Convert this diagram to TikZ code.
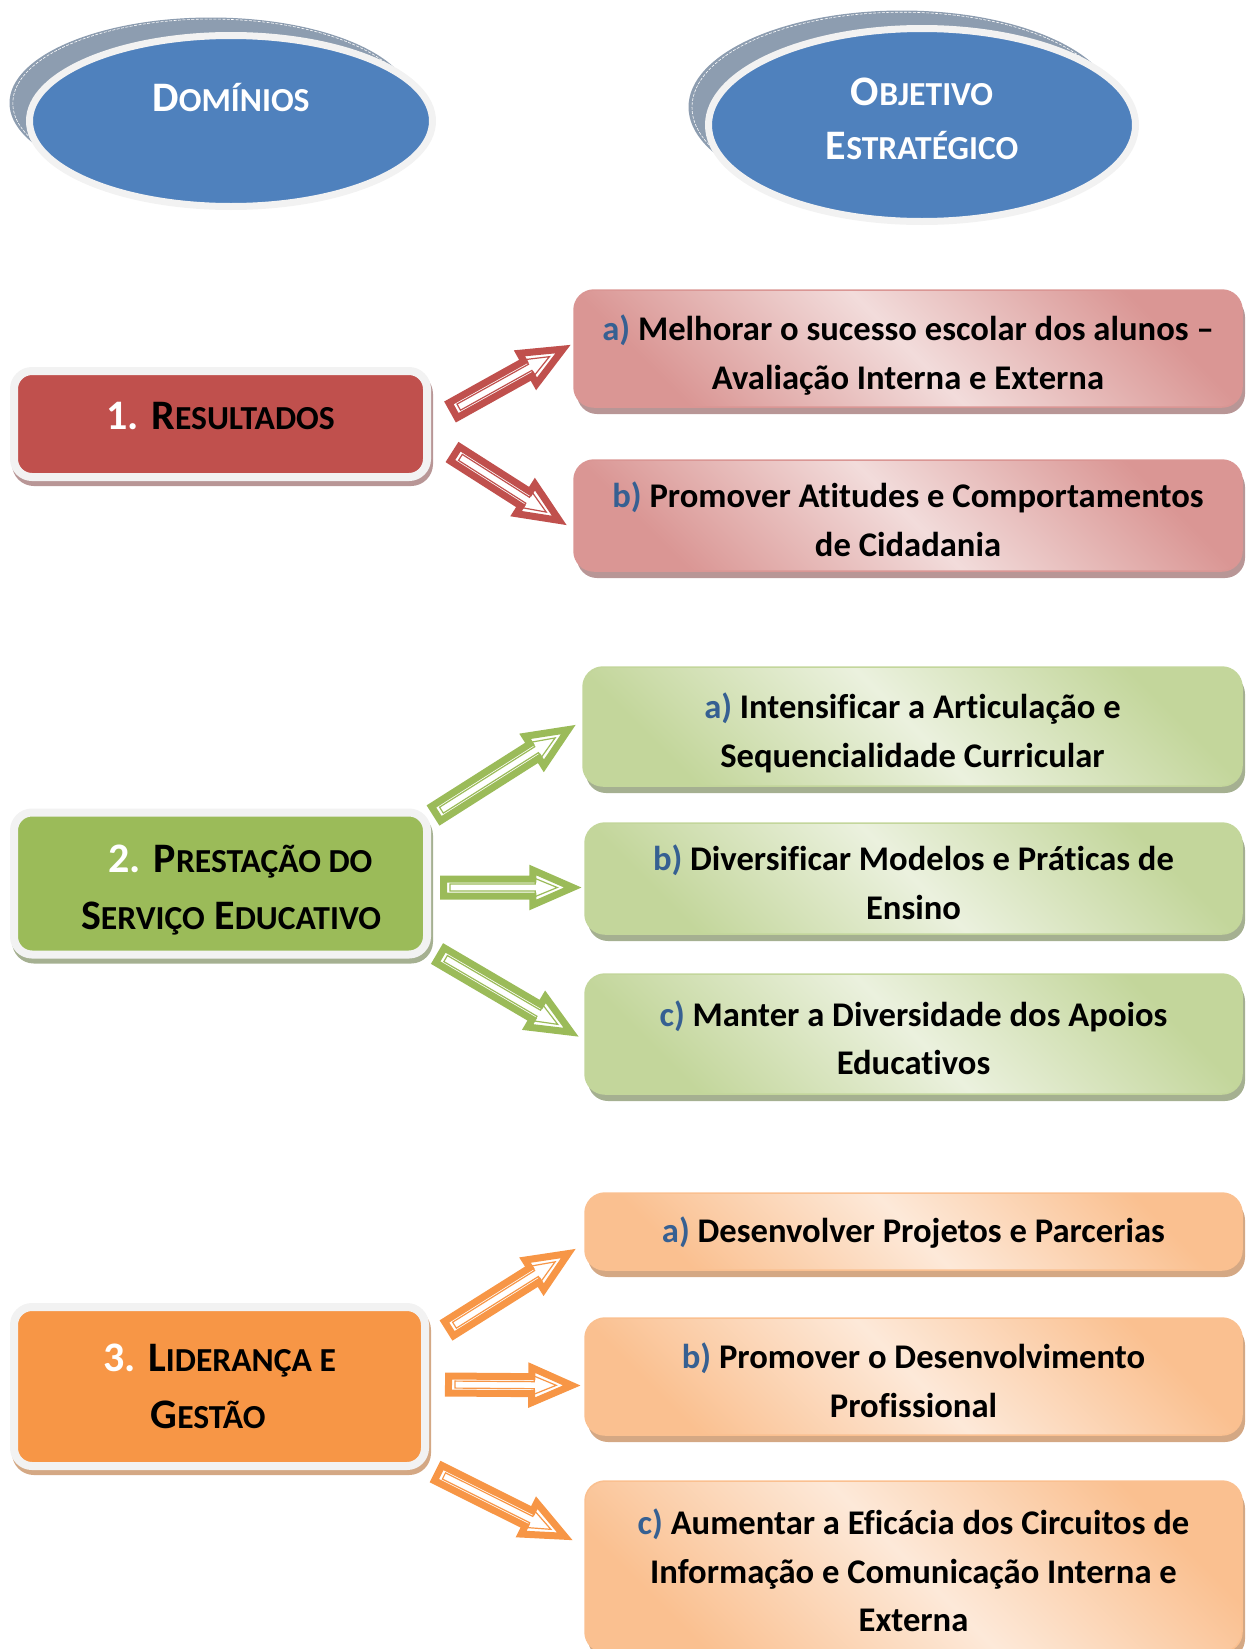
\documentclass[tikz,border=0pt]{standalone}
\usepackage{fontspec}
\setmainfont{Carlito}[Ligatures=NoCommon]
\usetikzlibrary{positioning,calc,shadows,shapes.geometric}

\definecolor{ellblue}{HTML}{4F81BD}
\definecolor{ellshade}{RGB}{141,157,176}
\definecolor{rim}{HTML}{F2F2F2}
\definecolor{resred}{HTML}{C0504D}
\definecolor{resgreen}{HTML}{9BBB59}
\definecolor{resorange}{HTML}{F79646}
\definecolor{redshade}{RGB}{184,150,150}
\definecolor{greenshade}{RGB}{165,176,145}
\definecolor{orangeshade}{RGB}{212,168,132}
\definecolor{redlight}{HTML}{F2DCDB}
\definecolor{reddark}{HTML}{DA9694}
\definecolor{greenlight}{HTML}{EBF1DE}
\definecolor{greendark}{HTML}{C3D69B}
\definecolor{orangelight}{HTML}{FDE9D9}
\definecolor{orangedark}{HTML}{FAC090}
\definecolor{letterblue}{RGB}{54,96,146}

% first letter big, the rest as small capitals
\newcommand{\capsc}[2]{#1{\fontsize{33.6}{54}\selectfont #2}}
\newcommand{\lbl}[1]{\textcolor{letterblue}{#1)}}

% block arrow with a thin inner outline, from tail #2 to tip #3
\newcommand{\fatarrow}[3]{%
  \path let \p1=($(#3)-(#2)$), \n1={atan2(\y1,\x1)}, \n2={veclen(\x1,\y1)} in
    \pgfextra{\xdef\faangle{\n1}\xdef\falength{\n2}};
  \begin{scope}[shift={(#2)}, rotate=\faangle]
    \draw[draw=#1, fill=white, line width=7pt, miter limit=5]
      (3.5,-8.5) -- ({\falength-49.5},-8.5) -- ({\falength-49.5},-17.5) -- ({\falength-9.5},0)
      -- ({\falength-49.5},17.5) -- ({\falength-49.5},8.5) -- (3.5,8.5) -- cycle;
    \draw[draw=#1, line width=1.2pt]
      (10,-3.5) -- ({\falength-47},-3.5) -- ({\falength-47},-9) -- ({\falength-25},0)
      -- ({\falength-47},9) -- ({\falength-47},3.5) -- (10,3.5) -- cycle;
  \end{scope}}

\begin{document}
\begin{tikzpicture}[x=1pt, y=-1pt,
  heading/.style={ellipse, inner sep=0pt, fill=ellblue, draw=rim, line width=7pt, text=white,
    align=center, font=\bfseries\fontsize{42}{54}\selectfont,
    general shadow={fill=ellshade, shadow xshift=-20pt, shadow yshift=18pt},
    general shadow={draw=white, line width=0.6pt, dash pattern=on 3pt off 1.5pt,
      shadow xshift=-20pt, shadow yshift=18pt, shadow scale=0.985}},
  area/.style={rectangle, rounded corners=18pt, inner sep=0pt, draw=rim, line width=8pt,
    minimum width=413pt, align=center, font=\bfseries\fontsize{42}{57}\selectfont},
  redarea/.style={area, fill=resred, general shadow={fill=redshade, draw=redshade,
    line width=8pt, shadow xshift=2pt, shadow yshift=-5pt}},
  greenarea/.style={area, fill=resgreen, general shadow={fill=greenshade, draw=greenshade,
    line width=8pt, shadow xshift=2pt, shadow yshift=-5pt}},
  orangearea/.style={area, fill=resorange, general shadow={fill=orangeshade, draw=orangeshade,
    line width=8pt, shadow xshift=2pt, shadow yshift=-5pt}},
  goal/.style={rectangle, rounded corners=20pt, inner sep=0pt, line width=1.5pt,
    minimum width=657pt, text width=640pt, align=flush center,
    execute at begin node={\rule{0pt}{43pt}},
    execute at end node={\rule[-10pt]{0pt}{10pt}},
    font=\bfseries\fontsize{34.6}{48.4}\selectfont},
  redgoal/.style={goal, draw=reddark, top color=reddark, bottom color=reddark,
    middle color=redlight, shading angle=-45,
    general shadow={fill=redshade, shadow xshift=3pt, shadow yshift=-7pt}},
  greengoal/.style={goal, draw=greendark, top color=greendark, bottom color=greendark,
    middle color=greenlight, shading angle=-45,
    general shadow={fill=greenshade, shadow xshift=3pt, shadow yshift=-7pt}},
  orangegoal/.style={goal, draw=orangedark, top color=orangedark, bottom color=orangedark,
    middle color=orangelight, shading angle=-45,
    general shadow={fill=orangeshade, shadow xshift=3pt, shadow yshift=-7pt}}]

  \useasboundingbox (0,0) rectangle (1245,1649);

  % headings
  \node[heading, minimum width=403pt, minimum height=171pt, text height=37pt, text depth=57pt]
    (dominios) at (231,121) {\capsc{D}{OMÍNIOS}};
  \node[heading, minimum width=427pt, minimum height=193pt, text depth=12.5pt]
    (objetivo) at (922,125) {\capsc{O}{BJETIVO}\\\capsc{E}{STRATÉGICO}};

  % domains
  \node[redarea, minimum height=106pt, text depth=16pt] (res) at (220.5,424)
    {\textcolor{white}{1.} \capsc{R}{ESULTADOS}};
  \node[greenarea, minimum height=142pt, text height=97pt] (pse) at (220.5,883.5)
    {\hspace*{40pt}\textcolor{white}{2.} \capsc{P}{RESTAÇÃO DO}\\\hspace*{21pt}\capsc{S}{ERVIÇO} \capsc{E}{DUCATIVO}};
  \node[orangearea, minimum width=411pt, minimum height=159pt] (lid) at (219.5,1386.5)
    {\textcolor{white}{3.} \capsc{L}{IDERANÇA E}\\\capsc{G}{ESTÃO}\hspace*{23pt}};

  % objectives
  \node[redgoal, minimum width=668pt, minimum height=117pt] (res-a) at (908,348.5)
    {\lbl{a} Melhorar o sucesso escolar dos alunos –\\Avaliação Interna e Externa};
  \node[redgoal, minimum width=668pt, minimum height=111pt] (res-b) at (908,515.5)
    {\lbl{b} Promover Atitudes e Comportamentos\\de Cidadania};
  \node[greengoal, minimum width=659pt, minimum height=119pt] (pse-a) at (912.5,726.5)
    {\lbl{a} Intensificar a Articulação e\\Sequencialidade Curricular};
  \node[greengoal, minimum height=111pt] (pse-b) at (913.5,878.5)
    {\lbl{b} Diversificar Modelos e Práticas de\\Ensino};
  \node[greengoal, minimum height=120pt] (pse-c) at (913.5,1034)
    {\lbl{c} Manter a Diversidade dos Apoios\\Educativos};
  \node[orangegoal, minimum height=77pt, execute at end node={\rule[-22pt]{0pt}{22pt}}]
    (lid-a) at (913.5,1231.5) {\lbl{a} Desenvolver Projetos e Parcerias};
  \node[orangegoal, minimum height=117pt] (lid-b) at (913.5,1376.5)
    {\lbl{b} Promover o Desenvolvimento\\Profissional};
  \node[orangegoal, minimum height=171pt] (lid-c) at (913.5,1566.5)
    {\lbl{c} Aumentar a Eficácia dos Circuitos de\\Informação e Comunicação Interna e\\Externa};

  % arrow ends
  \coordinate (res-a-t) at ($(res.east)+(19,-12)$);
  \coordinate (res-a-h) at ($(res-a.west)+(-2,-4)$);
  \coordinate (res-b-t) at ($(res.east)+(21,28)$);
  \coordinate (res-b-h) at ($(res-b.west)+(-6,10)$);
  \coordinate (pse-a-t) at ($(pse.east)+(2,-68)$);
  \coordinate (pse-a-h) at ($(pse-a.west)+(-6,-2)$);
  \coordinate (pse-b-t) at ($(pse.east)+(9,4)$);
  \coordinate (pse-b-h) at ($(pse-b.west)+(-2,9)$);
  \coordinate (pse-c-t) at ($(pse.east)+(6,70)$);
  \coordinate (pse-c-h) at ($(pse-c.west)+(-5,3)$);
  \coordinate (lid-a-t) at ($(lid.east)+(17,-56)$);
  \coordinate (lid-a-h) at ($(lid-a.west)+(-8,17)$);
  \coordinate (lid-b-t) at ($(lid.east)+(16,-2)$);
  \coordinate (lid-b-h) at ($(lid-b.west)+(-3,9)$);
  \coordinate (lid-c-t) at ($(lid.east)+(6,85)$);
  \coordinate (lid-c-h) at ($(lid-c.west)+(-11,-26)$);

  \fatarrow{resred}{res-a-t}{res-a-h}
  \fatarrow{resred}{res-b-t}{res-b-h}
  \fatarrow{resgreen}{pse-a-t}{pse-a-h}
  \fatarrow{resgreen}{pse-b-t}{pse-b-h}
  \fatarrow{resgreen}{pse-c-t}{pse-c-h}
  \fatarrow{resorange}{lid-a-t}{lid-a-h}
  \fatarrow{resorange}{lid-b-t}{lid-b-h}
  \fatarrow{resorange}{lid-c-t}{lid-c-h}
\end{tikzpicture}
\end{document}
